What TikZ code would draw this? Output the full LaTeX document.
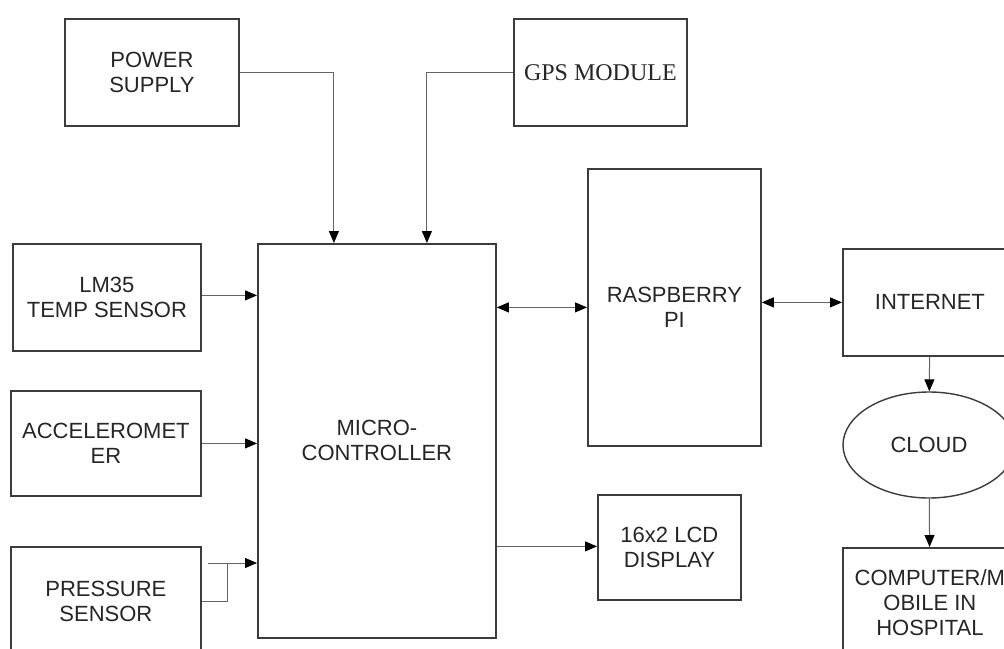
\documentclass[tikz,border=0pt]{standalone}
\usepackage{fontspec}
\setmainfont{Liberation Sans}
\newfontfamily\gpsfont{Liberation Serif}
\usepackage{xcolor}
\usepackage{tikz}
\usetikzlibrary{shapes,arrows.meta,positioning,calc}
\definecolor{edgegray}{RGB}{60,60,60}
\definecolor{wiregray}{RGB}{100,100,100}

\begin{document}
\begin{tikzpicture}[x=1pt, y=-1pt, font=\fontsize{22}{25}\selectfont]
\tikzstyle{blk} = [rectangle, draw=edgegray, line width=1.8pt, text=black!85, align=center, anchor=north west, inner sep=0pt]
\tikzstyle{a} = [-{Triangle[length=12pt,width=10pt,black]}, draw=wiregray, line width=1pt]
\tikzstyle{aa} = [{Triangle[length=12pt,width=10pt,black]}-{Triangle[length=12pt,width=10pt,black]}, draw=wiregray, line width=1pt]
\clip (0,0) rectangle (1004,648);
\fill[white] (0,0) rectangle (1004,648);
% inputs
\node [blk, minimum width=174pt, minimum height=107pt] (power) at (64,18) {POWER\\SUPPLY};
\node [blk, minimum width=173pt, minimum height=107pt, font=\gpsfont\fontsize{24}{28}\selectfont] (gps) at (513,18) {GPS MODULE};
\node [blk, minimum width=188pt, minimum height=107pt] (lm35) at (12,243) {LM35\\TEMP SENSOR};
\node [blk, minimum width=190pt, minimum height=105pt] (accel) at (10,390) {ACCELEROMET\\ER};
\node [blk, minimum width=190pt, minimum height=110pt] (pressure) at (10,546) {PRESSURE\\SENSOR};
% core
\node [blk, minimum width=238pt, minimum height=394pt] (mcu) at (257,243) {MICRO-\\CONTROLLER};
\node [blk, minimum width=173pt, minimum height=277pt] (rpi) at (587,168) {RASPBERRY\\PI};
\node [blk, minimum width=143pt, minimum height=105pt] (lcd) at (597,494) {16x2 LCD\\DISPLAY};
% outputs
\node [blk, minimum width=174pt, minimum height=107pt] (internet) at (842,248) {INTERNET};
\node [ellipse, draw=edgegray, line width=1.4pt, text=black!85, minimum width=172pt, minimum height=106pt, inner sep=0pt] (cloud) at (929,445) {CLOUD};
\node [blk, minimum width=174pt, minimum height=110pt] (computer) at (842,547) {COMPUTER/M\\OBILE IN\\HOSPITAL};
\coordinate (pj) at (227,563);

\draw [a] (power.east) -| ([xshift=-43pt]mcu.north);
\draw [a] (gps.west) -| ([xshift=50pt]mcu.north);
\draw [a] ([yshift=2pt]lm35.east) -- ([yshift=2pt]lm35.east -| mcu.west);
\draw [a] (accel.east) -- (accel.east -| mcu.west);
\draw [draw=wiregray, line width=1pt] (pressure.east) -| (pj);
\draw [a] ([xshift=-19pt]pj) -- (pj -| mcu.west);
\draw [aa] (rpi.west -| mcu.east) -- (rpi.west);
\draw [aa] (internet.west -| rpi.east) -- (internet.west);
\draw [a] ([yshift=1pt]lcd.west -| mcu.east) -- ([yshift=1pt]lcd.west);
\draw [a] (internet) -- (cloud);
\draw [a] (cloud) -- (computer);
\end{tikzpicture}
\end{document}
